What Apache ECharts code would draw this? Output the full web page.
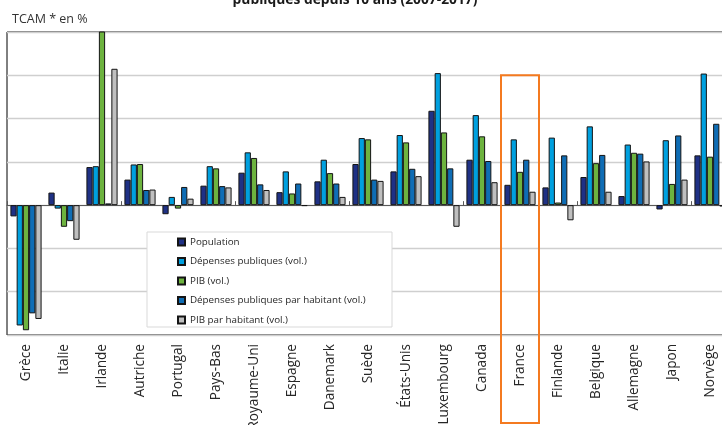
<!DOCTYPE html>
<html>
<head>
<meta charset="utf-8">
<script src="https://cdn.jsdelivr.net/npm/echarts@6/dist/echarts.min.js"></script>
<style>
html,body{margin:0;padding:0;background:#fff;}
#chart{width:722px;height:425px;}
</style>
</head>
<body>
<div id="chart"></div>
<script>
const categories = ['Grèce','Italie','Irlande','Autriche','Portugal','Pays-Bas','Royaume-Uni','Espagne','Danemark','Suède','États-Unis','Luxembourg','Canada','France','Finlande','Belgique','Allemagne','Japon','Norvège'];
const population   = [-0.26, 0.29, 0.88, 0.59, -0.21, 0.45, 0.75, 0.30, 0.55, 0.95, 0.78, 2.18, 1.05, 0.47, 0.41, 0.65, 0.21, -0.10, 1.15];
const depPub       = [-2.78, -0.08, 0.90, 0.94, 0.19, 0.90, 1.22, 0.78, 1.05, 1.55, 1.62, 3.05, 2.08, 1.52, 1.56, 1.82, 1.40, 1.50, 3.04];
const pib          = [-2.89, -0.50, 4.06, 0.95, -0.08, 0.85, 1.09, 0.27, 0.74, 1.52, 1.45, 1.68, 1.59, 0.77, 0.06, 0.97, 1.21, 0.49, 1.12];
const depParHab    = [-2.50, -0.37, 0.04, 0.35, 0.42, 0.44, 0.48, 0.50, 0.50, 0.59, 0.84, 0.85, 1.02, 1.05, 1.15, 1.16, 1.19, 1.61, 1.88];
const pibParHab    = [-2.63, -0.80, 3.15, 0.36, 0.15, 0.41, 0.35, -0.02, 0.19, 0.56, 0.67, -0.50, 0.53, 0.31, -0.35, 0.31, 1.01, 0.59, -0.03];
const seriesNames  = ['Population','Dépenses publiques (vol.)','PIB (vol.)','Dépenses publiques par habitant (vol.)','PIB par habitant (vol.)'];
const yTicks = { min: -3, max: 4, interval: 1 };
const highlighted = 'France';

const colors = ['#1F3185','#00A0DF','#6DB33F','#0F6DB5','#BFBFBF'];
const values = [population, depPub, pib, depParHab, pibParHab];
const FONT = '"Open Sans"';

const chart = echarts.init(document.getElementById('chart'), null, {renderer:'canvas'});

const option = {
  animation: false,
  backgroundColor: '#fff',
  textStyle: { fontFamily: FONT },
  grid: { left: 7, top: 32, width: 722, height: 303, outerBoundsMode: 'none', containLabel: false, show: true, borderColor: '#000', borderWidth: 1, backgroundColor: 'transparent' },
  xAxis: [
    {
      type: 'category', data: categories, position: 'bottom',
      axisLine: { onZero: true, lineStyle: { color: '#595959', width: 1 } },
      axisTick: { show: true, inside: true, length: 4, lineStyle: { color: '#595959' } },
      axisLabel: { show: false },
      splitLine: { show: false }
    },
    {
      type: 'category', data: categories, position: 'bottom',
      axisLine: { show: false, onZero: false },
      axisTick: { show: false },
      axisLabel: { show: true, interval: 0, rotate: 90, margin: 9, fontFamily: FONT, fontSize: 13.6, color: '#262626' },
      splitLine: { show: false }
    }
  ],
  yAxis: {
    type: 'value', min: yTicks.min, max: yTicks.max, interval: yTicks.interval,
    axisLine: { show: false }, axisTick: { show: false }, axisLabel: { show: false },
    splitLine: { show: true, lineStyle: { color: '#CFCFCF', width: 1.3 } }
  },
  legend: {
    orient: 'vertical', left: 177, top: 236, padding: 0,
    itemWidth: 7, itemHeight: 7, itemGap: 7.5, icon: 'rect', selectedMode: false,
    textStyle: { fontFamily: FONT, fontSize: 9.8, lineHeight: 12, color: '#262626' },
    data: seriesNames, z: 6
  },
  series: seriesNames.map((name, i) => ({
    name, type: 'bar', xAxisIndex: 0, data: values[i], clip: true,
    barGap: '0%', barCategoryGap: '18%',
    itemStyle: { color: colors[i], borderColor: '#141414', borderWidth: 1 }
  })),
  graphic: [
    { type: 'rect', z: 5, shape: { x: 147, y: 232, width: 245, height: 95 }, style: { fill: '#fff', stroke: '#D9D9D9', lineWidth: 1 } },
    { type: 'text', z: 5, style: { text: 'TCAM * en %', x: 12, y: 19.5, textVerticalAlign: 'middle', font: '12.5px ' + FONT, fill: '#333' } },
    { type: 'text', z: 5, style: { text: 'publiques depuis 10 ans (2007-2017)', x: 355, y: 7, textAlign: 'center', textVerticalAlign: 'bottom', font: 'bold 13.8px ' + FONT, fill: '#1a1a1a' } }
  ]
};
chart.setOption(option);

const idx = categories.indexOf(highlighted);
const cx = chart.convertToPixel({ xAxisIndex: 0 }, categories[idx]);
const nx = chart.convertToPixel({ xAxisIndex: 0 }, categories[idx + 1]);
const half = (nx - cx) / 2;
const topY = chart.convertToPixel({ yAxisIndex: 0 }, 3);
option.graphic.push({ type: 'rect', z: 10, shape: { x: cx - half, y: topY, width: 2 * half, height: 423 - topY }, style: { fill: 'none', stroke: '#F47A20', lineWidth: 2 } });
chart.setOption({ graphic: option.graphic });
</script>
</body>
</html>
